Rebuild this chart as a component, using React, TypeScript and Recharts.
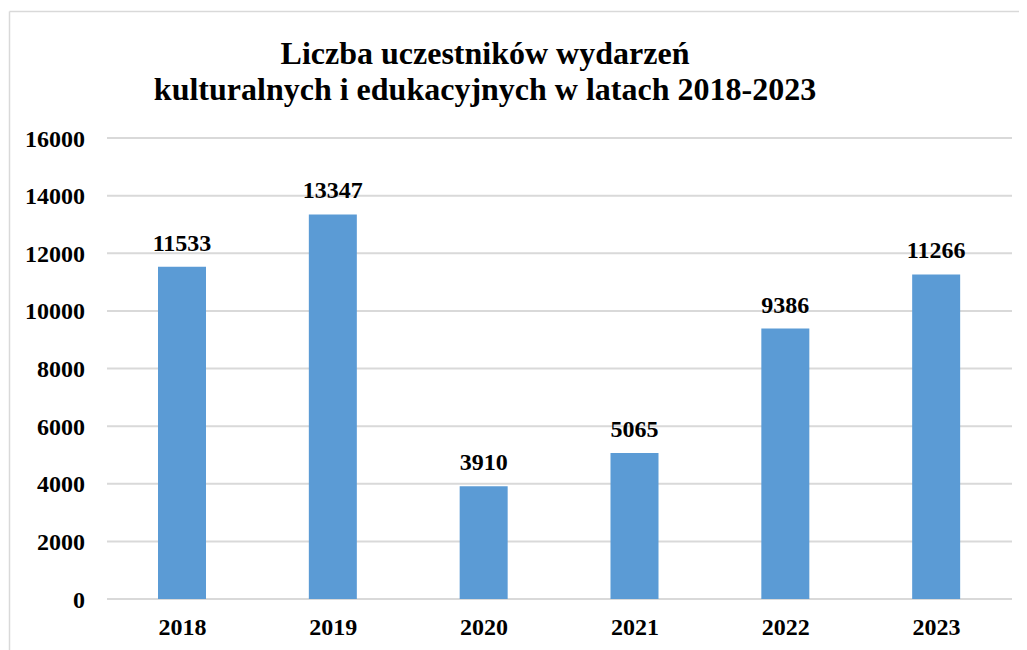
import React from 'react';
import { BarChart, Bar, XAxis, YAxis, CartesianGrid, LabelList, Customized } from 'recharts';

const years = ['2018', '2019', '2020', '2021', '2022', '2023'];
const participants = [11533, 13347, 3910, 5065, 9386, 11266];
const yTicks = [0, 2000, 4000, 6000, 8000, 10000, 12000, 14000, 16000];
const titleLines = ['Liczba uczestników wydarzeń', 'kulturalnych i edukacyjnych w latach 2018-2023'];

const data = years.map((y, i) => ({ year: y, value: participants[i] }));

const FONT = '"Liberation Serif", "Times New Roman", serif';

const Decor = () => (
  <g>
    <line x1={1.5} y1={3.5} x2={1019} y2={3.5} stroke="#d9d9d9" strokeWidth={1.5} />
    <line x1={1.5} y1={3.5} x2={1.5} y2={642} stroke="#d9d9d9" strokeWidth={1.5} />
    <text x={477} y={56} textAnchor="middle" fontFamily={FONT} fontWeight="bold" fontSize={32} fill="#000">
      {titleLines[0]}
    </text>
    <text x={477} y={92} textAnchor="middle" fontFamily={FONT} fontWeight="bold" fontSize={32} fill="#000">
      {titleLines[1]}
    </text>
  </g>
);

export default function App() {
  return (
    <div style={{ width: 1019, height: 642 }}>
      <style>{`body{overflow:hidden;}`}</style>
      <BarChart
        width={1019}
        height={642}
        data={data}
        margin={{ top: 130, right: 15, left: 0, bottom: 21 }}
      >
        <Customized component={<Decor />} />
        <CartesianGrid vertical={false} stroke="#d9d9d9" strokeWidth={2} />
        <XAxis
          dataKey="year"
          axisLine={false}
          tickLine={false}
          tickSize={0}
          tickMargin={19}
          height={30}
          interval={0}
          tick={{ fontFamily: FONT, fontWeight: 'bold', fontSize: 24, fill: '#000' }}
        />
        <YAxis
          width={99}
          domain={[0, 16000]}
          ticks={yTicks}
          interval={0}
          axisLine={false}
          tickLine={false}
          tickSize={0}
          tickMargin={22}
          tick={{ fontFamily: FONT, fontWeight: 'bold', fontSize: 24, fill: '#000' }}
        />
        <Bar dataKey="value" fill="#5B9BD5" barSize={48} isAnimationActive={false}>
          <LabelList
            dataKey="value"
            position="top"
            offset={16}
            style={{ fontFamily: FONT, fontWeight: 'bold', fontSize: 24, fill: '#000' }}
          />
        </Bar>
      </BarChart>
    </div>
  );
}
